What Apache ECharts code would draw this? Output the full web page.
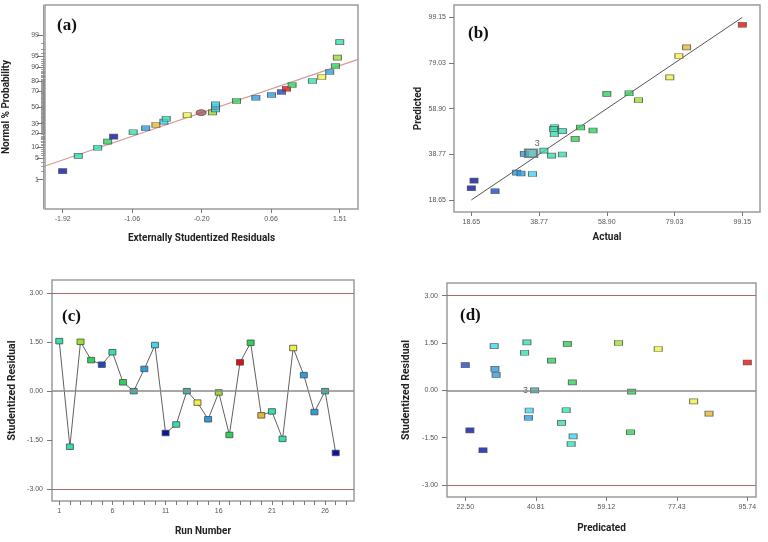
<!DOCTYPE html>
<html><head><meta charset="utf-8">
<script src="https://cdn.jsdelivr.net/npm/echarts@6/dist/echarts.min.js"></script>
<style>html,body{margin:0;padding:0;background:#fff}#c{width:768px;height:542px}</style>
</head><body><div id="c"></div>
<script>
// ---------- Panel (a): normal probability plot ----------
const normResid = [-1.92,-1.727,-1.487,-1.363,-1.289,-1.047,-0.893,-0.766,-0.667,-0.638,-0.379,-0.206,-0.065,-0.028,-0.028,-0.028,0.232,0.471,0.665,0.789,0.851,0.920,1.172,1.287,1.386,1.457,1.481,1.51];
const normProb  = [2.0,5.9,9.7,13.5,17.3,21.1,25.0,28.5,32.2,35.7,39.9,43.2,43.6,47.4,50.8,53.8,58.0,62.1,65.4,68.9,72.5,76.3,80.1,83.5,87.2,90.8,94.5,98.2];
const normRefX  = [-2.139, 1.736];
const normRefP  = [2.96, 93.86];
const normXTicks = [-1.92,-1.06,-0.20,0.66,1.51];
const normPTicks = [1,5,10,20,30,50,70,80,90,95,99];

// ---------- Panel (b): predicted vs actual ----------
const actual    = [19.45,18.65,25.7,32.1,33.4,36.8,34.4,36.4,40.2,42.5,45.7,43.4,43.1,43.3,45.7,49.5,51.1,54.8,58.9,65.5,68.3,77.6,80.3,82.6,99.15];
const predicted = [27.2,23.8,22.5,30.7,30.3,30.1,38.95,39.25,40.4,38.2,38.7,50.7,50.0,47.6,49.0,45.6,50.6,49.3,65.4,65.7,62.6,72.7,82.1,85.9,95.9];
const pvaTicks  = [18.65,38.77,58.90,79.03,99.15];
const pvaLine   = [18.65, 99.15];

// ---------- Panel (c): residuals vs run ----------
const runs      = [1,2,3,4,5,6,7,8,9,10,11,12,13,14,15,16,17,18,19,20,21,22,23,24,25,26,27];
const runResid  = [1.52,-1.71,1.50,0.94,0.80,1.18,0.26,-0.01,0.67,1.40,-1.29,-1.03,-0.01,-0.36,-0.87,-0.05,-1.35,0.87,1.47,-0.75,-0.63,-1.47,1.31,0.48,-0.65,-0.01,-1.90];
const runTicks  = [1,6,11,16,21,26];
const runMinorTicks = [1,2,3,4,5,6,7,8,9,10,11,12,13,14,15,16,17,18,19,20,21,22,23,24,25,26,27,28];
const residTicks = [3.00,1.50,0.00,-1.50,-3.00];
const limits    = [3, -3];

// ---------- Panel (d): residuals vs predicted ----------
const predX     = [22.5,23.7,27.1,30.0,30.2,30.5,37.9,38.5,40.5,39.1,38.9,44.9,47.5,48.7,49.0,50.3,50.5,50.0,62.3,65.7,65.4,72.6,81.8,85.8,95.74];
const predResid = [0.80,-1.27,-1.90,1.40,0.68,0.49,1.19,1.52,0.0,-0.64,-0.87,0.94,-1.03,-0.63,1.47,0.25,-1.46,-1.70,1.50,-0.04,-1.33,1.31,-0.35,-0.74,0.88];
const predTicks = [22.50,40.81,59.12,77.43,95.74];

// ---------- colours (style) ----------
const C = {db:'#0a14a8', bl:'#1a48c8', bc:'#2a9ee0', cy:'#3ed6f0', te:'#30e0b0', tg:'#3cb8b0',
           gr:'#2ed25a', yg:'#96e030', ye:'#f2f040', or:'#e8b830', re:'#e01010', br:'#a85858'};
const colA = ['db','te','te','gr','db','te','bc','or','cy','te','ye','br','yg','cy','cy','cy','gr','bc','bc','bl','re','gr','te','ye','bc','gr','yg','te'];
const colB = ['db','db','bl','bc','bc','cy','bc','tg','te','te','te','te','te','te','te','gr','gr','gr','gr','gr','yg','ye','ye','or','re'];
const colC = ['te','te','yg','gr','bl','te','gr','tg','bc','cy','db','te','tg','ye','bc','yg','gr','re','gr','or','te','te','ye','bc','bc','tg','db'];
const colD = ['bl','db','db','cy','bc','bc','te','te','tg','cy','bc','gr','te','te','gr','gr','cy','te','yg','gr','gr','ye','ye','or','re'];

// inverse normal CDF (Acklam)
function probit(p){
  const a=[-3.969683028665376e+01,2.209460984245205e+02,-2.759285104469687e+02,1.383577518672690e+02,-3.066479806614716e+01,2.506628277459239e+00];
  const b=[-5.447609879822406e+01,1.615858368580409e+02,-1.556989798598866e+02,6.680131188771972e+01,-1.328068155288572e+01];
  const c=[-7.784894002430293e-03,-3.223964580411365e-01,-2.400758277161838e+00,-2.549732539343734e+00,4.374664141464968e+00,2.938163982698783e+00];
  const d=[7.784695709041462e-03,3.224671290700398e-01,2.445134137142996e+00,3.754408661907416e+00];
  const pl=0.02425;
  if(p<pl){const q=Math.sqrt(-2*Math.log(p));return (((((c[0]*q+c[1])*q+c[2])*q+c[3])*q+c[4])*q+c[5])/((((d[0]*q+d[1])*q+d[2])*q+d[3])*q+1);}
  if(p<=1-pl){const q=p-0.5,r=q*q;return (((((a[0]*r+a[1])*r+a[2])*r+a[3])*r+a[4])*r+a[5])*q/(((((b[0]*r+b[1])*r+b[2])*r+b[3])*r+b[4])*r+1);}
  const q=Math.sqrt(-2*Math.log(1-p));return -(((((c[0]*q+c[1])*q+c[2])*q+c[3])*q+c[4])*q+c[5])/((((d[0]*q+d[1])*q+d[2])*q+d[3])*q+1);
}
const z = p => probit(p/100);
const majorZ = normPTicks.map(z);
const minorZ = []; for(let p=2;p<=98;p++) minorZ.push(z(p));

const ellipse = 'path://M0 3A5 3 0 1 0 10 3A5 3 0 1 0 0 3Z';
const FONT = 'Liberation Sans';
const tickLbl = (fmt) => ({fontSize:7, color:'#555', fontFamily:FONT, formatter: fmt});
const f2 = v => Number(v).toFixed(2);
const f0 = v => String(Math.round(v));
const nameStyle = (s) => ({fontSize:s, fontWeight:'bold', color:'#222', fontFamily:'Roboto'});
const mk = (k) => ({color:C[k], borderColor:'#4a4a4a', borderWidth:0.8});
const MS = [8,5];

const grids = [
  {left:45, top:5, width:313, height:204},
  {left:454, top:5, width:306, height:207},
  {left:52, top:280, width:302, height:221},
  {left:447, top:283, width:309, height:214}
].map(g => Object.assign(g, {show:true, borderColor:'#9c9c9c', borderWidth:1.5, backgroundColor:'transparent'}));

const baseX = (gi, min, max, ticks, name, gap, fmt, tickVals) => ({
  gridIndex:gi, type:'value', min, max, name, nameLocation:'middle', nameGap:gap, position:'bottom',
  nameTextStyle:nameStyle(10),
  axisLine:{show:false, onZero:false}, splitLine:{show:false},
  axisTick:{show:true, length:4, lineStyle:{color:'#777'}, customValues: tickVals || ticks},
  axisLabel:Object.assign(tickLbl(fmt || f2), {customValues:ticks, margin:7})
});
const baseY = (gi, min, max, ticks, name, gap, size, margin) => ({
  gridIndex:gi, type:'value', min, max, name, nameLocation:'middle', nameGap:gap, position:'left',
  nameTextStyle:nameStyle(size), axisLine:{show:false, onZero:false}, splitLine:{show:false},
  axisTick:{show:true, length:5, lineStyle:{color:'#777'}, customValues:ticks},
  axisLabel:Object.assign(tickLbl(f2), {customValues:ticks, margin:margin})
});

const refLines = () => ({silent:true, symbol:['none','none'], label:{show:false},
  data:[{yAxis:limits[0], lineStyle:{color:'#a86a6a', width:1, type:'solid'}},
        {yAxis:limits[1], lineStyle:{color:'#a86a6a', width:1, type:'solid'}},
        {yAxis:0, lineStyle:{color:'#8a8a8a', width:1.5, type:'solid'}}]});

const yA = baseY(0, -3.27, 3.29, majorZ, 'Normal % Probability', 32, 10, 4);
yA.offset = 2;
yA.axisLine = {show:true, onZero:false, lineStyle:{color:'#999'}};
yA.axisTick.length = 6;
yA.axisLabel.formatter = v => { let bi=0; majorZ.forEach((m,i)=>{ if(Math.abs(m-v)<Math.abs(majorZ[bi]-v)) bi=i; }); return String(normPTicks[bi]); };

const option = {
  animation:false,
  grid: grids,
  title: [
    {text:'(a)', left:52, top:12},
    {text:'(b)', left:463, top:20},
    {text:'(c)', left:57, top:303},
    {text:'(d)', left:455, top:302}
  ].map(t => Object.assign(t, {textStyle:{fontFamily:'Liberation Serif', fontWeight:'bold', fontSize:17, color:'#111'}})),
  xAxis: [
    baseX(0, -2.139, 1.736, normXTicks, 'Externally Studentized Residuals', 24),
    baseX(1, 13.5, 104.4, pvaTicks, 'Actual', 20),
    baseX(2, 0.317, 28.72, runTicks, 'Run Number', 25, f0, runMinorTicks),
    baseX(3, 17.75, 98.0, predTicks, 'Predicated', 26)
  ],
  yAxis: [
    yA,
    baseY(1, 13.35, 104.6, pvaTicks, 'Predicted', 31, 10, 8),
    baseY(2, -3.37, 3.39, residTicks, 'Studentized Residual', 34, 10.5, 9),
    baseY(3, -3.38, 3.40, residTicks, 'Studentized Residual', 35, 10.5, 9),
    {gridIndex:0, type:'value', min:-3.27, max:3.29, offset:0, position:'left',
     axisLine:{show:false, onZero:false}, splitLine:{show:false}, axisLabel:{show:false},
     axisTick:{show:true, length:4, lineStyle:{color:'#888', width:0.8}, customValues:minorZ}}
  ],
  series: [
    {type:'line', xAxisIndex:0, yAxisIndex:0, symbol:'none', silent:true,
     lineStyle:{color:'#d49a9a', width:1.2}, data: normRefX.map((x,i)=>[x, z(normRefP[i])]), z:1},
    {type:'scatter', xAxisIndex:0, yAxisIndex:0, symbol:'rect', symbolSize:MS, z:3,
     data: normResid.map((x,i)=>({value:[x, z(normProb[i])], itemStyle:mk(colA[i]),
       symbol: colA[i]==='br' ? ellipse : 'rect', symbolSize: colA[i]==='br' ? [10,6] : MS}))},

    {type:'line', xAxisIndex:1, yAxisIndex:1, symbol:'none', silent:true,
     lineStyle:{color:'#555', width:1}, data: pvaLine.map(v=>[v,v]), z:1},
    {type:'scatter', xAxisIndex:1, yAxisIndex:1, symbol:'rect', symbolSize:MS, z:3,
     data: actual.map((x,i)=>{
       const o = {value:[x, predicted[i]], itemStyle:mk(colB[i])};
       if (i===7){ o.symbolSize=[12,8]; o.itemStyle={color:'#58b4b4', borderColor:'#5a6a70', borderWidth:2};
         o.label={show:true, formatter:'3', position:[11,-9], fontSize:9, color:'#333', fontFamily:FONT}; }
       return o; })},

    {type:'line', xAxisIndex:2, yAxisIndex:2, symbol:'rect', symbolSize:[7,5.5], z:3,
     lineStyle:{color:'#606060', width:1},
     data: runs.map((r,i)=>({value:[r, runResid[i]], itemStyle:mk(colC[i])})),
     markLine:refLines()},

    {type:'scatter', xAxisIndex:3, yAxisIndex:3, symbol:'rect', symbolSize:MS, z:3,
     data: predX.map((x,i)=>{
       const o = {value:[x, predResid[i]], itemStyle:mk(colD[i])};
       if (i===8){ o.label={show:true, formatter:'3', position:'left', distance:2, fontSize:9, color:'#333', fontFamily:FONT}; }
       return o; }),
     markLine:refLines()}
  ]
};
const chart = echarts.init(document.getElementById('c'), null, {renderer:'canvas'});
chart.setOption(option);
</script></body></html>
